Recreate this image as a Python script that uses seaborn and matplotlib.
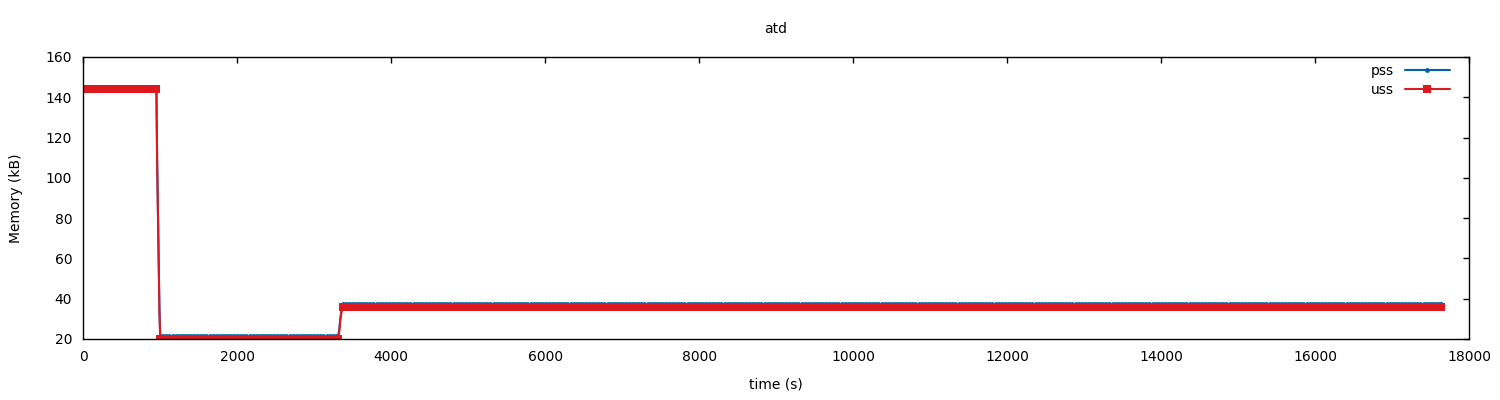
import numpy as np
import pandas as pd
import seaborn as sns
import matplotlib
matplotlib.use("Agg")
import matplotlib.pyplot as plt

# sampling of the plateaus (s) and segment bounds
sample_step = 40
high_end = 950
low_start, low_end = 1000, 3310
mid_start, t_end = 3370, 17640

# plateau levels (kB)
pss_high, pss_low, pss_mid = 145.2, 21.3, 37.2
uss_high, uss_low, uss_mid = 144.0, 20.0, 36.0

# transition samples (drawn without point markers)
drop_times = [960, 970, 980, 990]
pss_drop = [108.5, 83.8, 59.0, 34.0]
uss_drop = [107.4, 82.6, 57.7, 33.0]
rise_times = [3325, 3340, 3355]
pss_rise = [24.5, 30.5, 34.5]
uss_rise = [23.5, 29.5, 33.5]


def plateau(a, b):
    return np.append(np.arange(a, b, sample_step), b)


t_high = plateau(0, high_end)
t_low = plateau(low_start, low_end)
t_mid = plateau(mid_start, t_end)

time = np.concatenate([t_high, drop_times, t_low, rise_times, t_mid])
pss = np.concatenate([np.full(len(t_high), pss_high), pss_drop,
                      np.full(len(t_low), pss_low), pss_rise,
                      np.full(len(t_mid), pss_mid)])
uss = np.concatenate([np.full(len(t_high), uss_high), uss_drop,
                      np.full(len(t_low), uss_low), uss_rise,
                      np.full(len(t_mid), uss_mid)])
on_plateau = np.concatenate([np.ones(len(t_high), bool), np.zeros(len(drop_times), bool),
                             np.ones(len(t_low), bool), np.zeros(len(rise_times), bool),
                             np.ones(len(t_mid), bool)])
marks = list(np.flatnonzero(on_plateau))

df = pd.DataFrame({"time": time, "pss": pss, "uss": uss})

sns.set_style("white")
plt.rcParams['font.family'] = ['DejaVu Sans']
plt.rcParams['text.color'] = 'black'
plt.rcParams['axes.labelcolor'] = 'black'

fig, ax = plt.subplots(figsize=(15, 4), dpi=100)
fig.subplots_adjust(left=0.0555, right=0.9793, top=0.8575, bottom=0.1525)

sns.lineplot(data=df, x="time", y="pss", ax=ax, color="#0060ad", lw=1.5,
             marker="o", markersize=3.5, markeredgewidth=0, markevery=marks,
             label="pss", estimator=None, sort=False)
sns.lineplot(data=df, x="time", y="uss", ax=ax, color="#dd181f", lw=1.5,
             marker="s", markersize=6, markeredgewidth=0, markevery=marks,
             label="uss", estimator=None, sort=False)

ax.set_xlim(0, 18000)
ax.set_ylim(20, 160)
ax.set_xticks(np.arange(0, 18001, 2000))
ax.set_yticks(np.arange(20, 161, 20))
ax.tick_params(direction="in", length=4, width=1, top=True, right=True,
               labelsize=10, pad=8, colors="black")
for sp in ax.spines.values():
    sp.set_color("black")
    sp.set_linewidth(1)

ax.set_title("atd", fontsize=10, pad=17, color="black")
ax.set_xlabel("time (s)", fontsize=10, labelpad=10)
ax.set_ylabel("Memory (kB)", fontsize=10, labelpad=16)

leg = ax.legend(loc="upper right", bbox_to_anchor=(0.991, 1.0), frameon=False,
                markerfirst=False, fontsize=10, handlelength=3.2,
                borderaxespad=0.1, labelspacing=0.35)

fig.savefig("out.png", dpi=100)
